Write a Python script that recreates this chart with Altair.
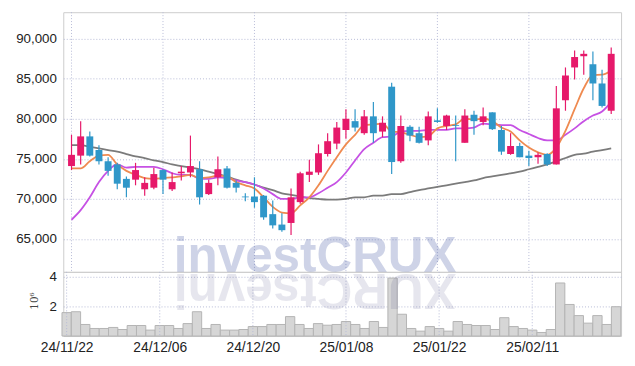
import altair as alt
import pandas as pd

# ---------------- data ----------------
tick_index = [0, 10, 20, 30, 40, 50]
tick_labels = ["24/11/22", "24/12/06", "24/12/20", "25/01/08", "25/01/22", "25/02/11"]

open_ = [74100, 75400, 77800, 76100, 74700, 74300, 72500, 72400, 71200, 71400,
         73600, 71200, 73200, 73300, 73700, 70600, 72700, 73800, 72000, 70300,
         70300, 70400, 68100, 66800, 67000, 69600, 73000, 73300, 75600, 76900,
         78600, 79700, 78200, 80300, 78400, 84000, 74700, 79000, 78200, 77300,
         79800, 79100, 79200, 77000, 80500, 79600, 80800, 78600, 75600, 76600,
         75400, 75200, 75600, 74300, 82300, 86400, 87800, 86800, 84400, 81000]
high = [78000, 79700, 78400, 76700, 75200, 74500, 72800, 74500, 72700, 73900,
        73700, 73300, 74100, 77900, 74700, 72400, 75300, 74100, 72300, 70700,
        72700, 70500, 69800, 68200, 71300, 73400, 74900, 76800, 78200, 79600,
        81200, 81200, 81100, 82100, 80300, 84500, 80400, 79200, 79000, 80900,
        81300, 80500, 80400, 81200, 81000, 81400, 80800, 79100, 78200, 77000,
        76000, 75800, 75700, 84100, 86400, 88500, 88500, 88400, 86100, 88900]
low = [73600, 74300, 75300, 74300, 72900, 71200, 70200, 71700, 70400, 71200,
       70600, 71000, 72300, 72700, 69300, 70500, 71700, 71300, 70800, 69700,
       68900, 67400, 66300, 65900, 65500, 69400, 72100, 73000, 75300, 76200,
       77500, 78400, 78000, 77000, 77700, 73100, 74500, 77200, 76900, 76700,
       79500, 78600, 74700, 77000, 78000, 79200, 78600, 75500, 75500, 75200,
       74100, 74400, 74100, 74300, 81000, 84900, 85500, 82300, 81400, 80600]
close = [75500, 77800, 75400, 74700, 73500, 71900, 71400, 73600, 72000, 73100,
         72400, 72100, 73400, 74100, 70200, 72000, 73700, 71400, 71400, 70200,
         69600, 67700, 66700, 66100, 70200, 73200, 73400, 75700, 77200, 78900,
         80000, 78900, 80300, 78200, 79500, 74600, 79100, 77900, 77000, 80300,
         79600, 80400, 79100, 80400, 79700, 80300, 78700, 75900, 76600, 75200,
         75100, 75500, 74300, 81300, 85400, 87700, 88100, 84400, 81600, 88100]
ma5 = [73800, 73800, 74700, 75400, 75500, 74300, 73500, 73000, 72600, 72500,
       72600, 72700, 72800, 73000, 72600, 72700, 72900, 72800, 72100, 71700,
       71300, 70200, 69000, 68300, 68200, 69200, 70200, 71700, 73500, 75200,
       76800, 78000, 79200, 79300, 79400, 78400, 78300, 78000, 77700, 77800,
       78800, 79100, 79300, 80000, 79900, 80000, 79700, 78900, 78400, 77300,
       76400, 75800, 75500, 76400, 78500, 81200, 83800, 85450, 85500, 86000]
ma20 = [67400, 68600, 70200, 72100, 73500, 74300, 73900, 74000, 74000, 74000,
        73700, 73200, 73000, 73000, 72500, 72500, 72700, 72600, 72300, 72100,
        71800, 71300, 70600, 70000, 70000, 70200, 70200, 70700, 71400, 72100,
        73300, 74800, 76200, 77000, 77700, 77800, 78400, 78500, 78500, 78600,
        78600, 78600, 78800, 78800, 78900, 79400, 79300, 79200, 79200, 78600,
        78100, 77600, 77300, 77300, 78000, 78800, 79700, 80400, 80900, 82100]
ma60 = [76700, 76700, 76500, 76300, 76100, 75900, 75600, 75300, 75100, 74800,
        74600, 74300, 74100, 73900, 73700, 73400, 73100, 72800, 72400, 72100,
        71800, 71400, 71100, 70700, 70500, 70300, 70100, 70000, 69900, 69900,
        70000, 70200, 70200, 70400, 70400, 70600, 70600, 70850, 71100, 71300,
        71500, 71700, 71900, 72100, 72300, 72600, 72800, 73000, 73200, 73400,
        73700, 74000, 74300, 74700, 75100, 75500, 75650, 75900, 76100, 76300]
volume = [1580000, 1640000, 780000, 510000, 510000, 580000, 440000, 710000, 710000, 400000,
          710000, 710000, 510000, 840000, 1640000, 510000, 780000, 400000, 400000, 440000,
          640000, 640000, 780000, 780000, 1310000, 780000, 510000, 840000, 730000, 780000,
          980000, 780000, 510000, 980000, 580000, 3910000, 1470000, 510000, 330000, 640000,
          510000, 330000, 980000, 780000, 710000, 710000, 440000, 1240000, 640000, 510000,
          400000, 240000, 440000, 3580000, 2130000, 1380000, 870000, 1380000, 780000, 1980000]

df = pd.DataFrame({"i": list(range(len(close))), "open": open_, "high": high,
                   "low": low, "close": close, "ma5": ma5, "ma20": ma20,
                   "ma60": ma60, "vol": volume})
ticks_df = pd.DataFrame({"i": tick_index, "label": tick_labels})

# ---------------- styling ----------------
UP = "#e6196a"
DOWN = "#2f97c9"
LABEL_FONT = "Liberation Sans"
GRID_COLOR = "#b7bbd6"
GRID = dict(grid=True, gridColor=GRID_COLOR, gridDash=[1, 2], gridWidth=1)
PW = 565

xs = alt.Scale(domain=[-0.36, 59.54], nice=False, zero=False)
price_scale = alt.Scale(domain=[60900, 93290], nice=False, zero=False)
vol_scale = alt.Scale(domain=[0, 4330000], nice=False, zero=False)

y_price_axis = alt.Axis(values=[65000, 70000, 75000, 80000, 85000, 90000],
                        labelExpr="format(datum.value, ',.0f')",
                        labelPadding=7, ticks=False, domain=False, title=None,
                        labelFont=LABEL_FONT, labelFontSize=13.5, labelColor="#222",
                        **GRID)

label_expr = "[" + ",".join(f"'{t}'" for t in tick_labels) + "][round(datum.value/10)]"
x_vol_axis = alt.Axis(values=tick_index, labelExpr=label_expr, ticks=False, domain=False,
                      title=None, labelFont=LABEL_FONT, labelFontSize=14,
                      labelColor="#222", labelPadding=5, labelFlush=False, grid=False)

base = alt.Chart(df)
xp = alt.X("i:Q", scale=xs, axis=None)


def vgrid(height, axis):
    return alt.Chart(ticks_df).mark_rule(color=GRID_COLOR, strokeDash=[1, 2],
                                         strokeWidth=1).encode(
        x=alt.X("i:Q", scale=xs, axis=axis), y=alt.value(0), y2=alt.value(height))


def ma_line(col, color):
    return base.mark_line(color=color, strokeWidth=1.8, interpolate="monotone").encode(
        x=xp, y=alt.Y(f"{col}:Q", scale=price_scale, axis=y_price_axis))


cond = alt.condition("datum.close >= datum.open", alt.value(UP), alt.value(DOWN))

wicks = base.mark_rule(strokeWidth=1.2).encode(
    x=xp, y=alt.Y("low:Q", scale=price_scale, axis=y_price_axis), y2="high:Q", color=cond)
bodies = base.mark_bar(size=7).encode(
    x=xp, y=alt.Y("open:Q", scale=price_scale, axis=y_price_axis), y2="close:Q", color=cond)

wm = alt.Chart(pd.DataFrame({"t": ["investCRUX"]})).mark_text(
    align="left", baseline="alphabetic", font="Liberation Sans", fontWeight="bold",
    fontSize=50, color="#4c5fa8", opacity=0.27).encode(
    x=alt.value(112), y=alt.value(263), text="t:N")

price = alt.layer(vgrid(263, None), ma_line("ma60", "#7b7b7b"), ma_line("ma20", "#c651e4"),
                  ma_line("ma5", "#ef8a50"), wicks, bodies, wm).properties(
    width=PW, height=263)

# ---------------- volume panel ----------------
y_vol_axis = alt.Axis(values=[2000000, 4000000], labelExpr="datum.value/1000000",
                      labelPadding=7, ticks=False, domain=False,
                      labelFont=LABEL_FONT, labelFontSize=13.5, labelColor="#222",
                      title="10\u2076", titleX=-29, titleY=29, titleAngle=-90,
                      titleFont="DejaVu Serif", titleFontSize=10.5,
                      titleFontWeight="normal", titleColor="#444",
                      titleAlign="center", titleBaseline="middle", **GRID)

vbars = base.transform_calculate(x0="datum.i - 0.5", x1="datum.i + 0.5").mark_bar(
    fill="#d6d6d6", stroke="#b4b4b4", strokeWidth=1).encode(
    x=alt.X("x0:Q", scale=xs, axis=x_vol_axis), x2="x1:Q",
    y=alt.Y("vol:Q", scale=vol_scale, axis=y_vol_axis), y2=alt.datum(0))

# mirrored watermark (each letter turned upside down)
letters = list("investCRUX")
em = [0.278, 0.611, 0.556, 0.556, 0.556, 0.333, 0.722, 0.722, 0.722, 0.667]
fs = 50
refl_layers = []
pos = 112.0
for ch, w in zip(letters, em):
    cx = pos + w * fs / 2
    pos += w * fs
    refl_layers.append(
        alt.Chart(pd.DataFrame({"t": [ch]})).mark_text(
            align="center", baseline="alphabetic", angle=180, font="Liberation Sans",
            fontWeight="bold", fontSize=fs, color="#3c3c78", opacity=0.12).encode(
            x=alt.value(cx), y=alt.value(2), text="t:N"))

vol = alt.layer(vbars, vgrid(65, x_vol_axis), *refl_layers).properties(width=PW, height=65)

chart = alt.vconcat(price, vol, spacing=0, bounds="flush").configure_view(
    stroke="#cccccc", strokeWidth=1).properties(
    padding={"left": 7, "top": 1, "right": 5, "bottom": 2}, background="white")

chart.save("out.html", embed_options={"renderer": "svg", "actions": False})
